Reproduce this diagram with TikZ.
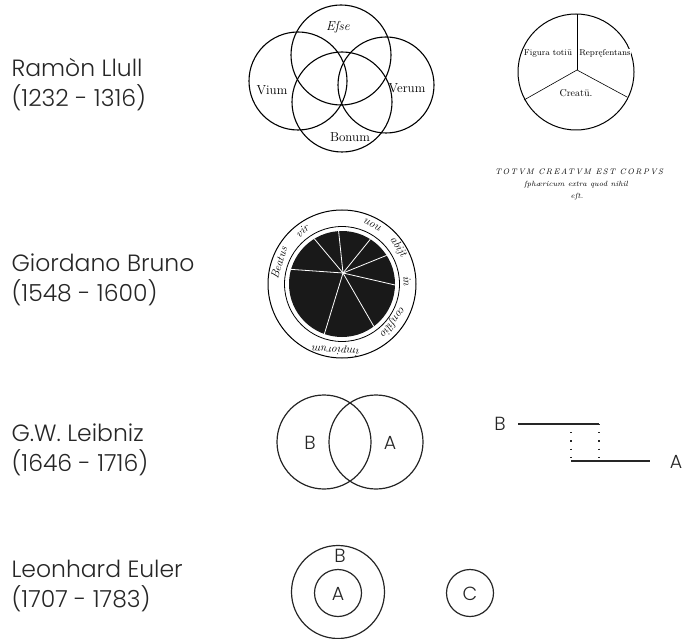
\documentclass[tikz,border=0pt]{standalone}
\usepackage{fontspec}
\setmainfont{Latin Modern Roman}
\IfFontExistsTF{Poppins Light}
  {\newfontfamily\namefont{Poppins Light}}
  {\newfontfamily\namefont{Poppins}}
\tikzset{
  namelabel/.style={anchor=base west, font=\namefont\fontsize{23.5}{23.5}\selectfont, text=black!85},
  wood/.style={font=\fontsize{13}{13}\selectfont, inner sep=0pt},
  ringtxt/.style={font=\itshape\fontsize{11.5}{11.5}\selectfont, inner sep=0pt},
  setlabel/.style={font=\namefont\fontsize{19}{19}\selectfont, text=black!85, inner sep=0pt},
  ln/.style={line width=1.2pt, black!85},
}
\begin{document}
\begin{tikzpicture}[x=1pt, y=-1pt]
    \useasboundingbox (0,0) rectangle (685,639);

    % Names
    \node[namelabel] (lull)  at (8,77)  {Ramòn Llull};
    \node[namelabel] (lullD) at (8,107) {(1232 - 1316)};
    \node[namelabel] (bruno)  at (8,271) {Giordano Bruno};
    \node[namelabel] (brunoD) at (8,301) {(1548 - 1600)};
    \node[namelabel] (leib)  at (8,441) {G.W. Leibniz};
    \node[namelabel] (leibD) at (8,471) {(1646 - 1716)};
    \node[namelabel] (euler)  at (8,577) {Leonhard Euler};
    \node[namelabel] (eulerD) at (8,607) {(1707 - 1783)};

    % Lull: four circles
    \draw[line width=1.1pt] (341,55) circle (50);
    \draw[line width=1.1pt] (298,81) circle (49);
    \draw[line width=1.1pt] (386,85) circle (48);
    \draw[line width=1.1pt] (342,102) circle (50);
    \node[wood] (esse)  at (338,27)  {\itshape Eſse};
    \node[wood] (vium)  at (272,90)  {Vium};
    \node[wood] (verum) at (407,88)  {Verum};
    \node[wood] (bonum) at (350,137) {Bonum};

    % Lull: divided circle
    \coordinate (hubL) at (577,70);
    \draw[line width=1pt] (576,72) circle (58);
    \draw[line width=0.6pt] (hubL) -- (577,14);
    \draw[line width=0.6pt] (hubL) -- (524,100);
    \draw[line width=0.6pt] (hubL) -- (627,97);
    \node[wood, font=\fontsize{8.5}{8.5}\selectfont, fill=white, inner sep=0.5pt] (fig) at (548,53) {Figura totiū};
    \node[wood, font=\fontsize{8.5}{8.5}\selectfont, fill=white, inner sep=0.5pt] (rep) at (605,53) {Repręſentans};
    \node[wood, font=\fontsize{10}{10}\selectfont] (crea) at (576,93) {Creatū.};
    \node[wood, font=\itshape\fontsize{8}{8}\selectfont\addfontfeatures{LetterSpace=18}] (cap1) at (579,172) {TOTVM CREATVM EST CORPVS};
    \node[wood, font=\itshape\fontsize{7.5}{7.5}\selectfont] (cap2) at (576,185) {ſphæricum extra quod nihil};
    \node[wood, font=\itshape\fontsize{7.5}{7.5}\selectfont] (cap3) at (577,197) {eſt.};

    % Bruno: ring with dark disc
    \coordinate (brC) at (342,284);
    \coordinate (hubB) at (343,273);
    \draw[line width=1pt] (brC) circle (74);
    \draw[line width=0.8pt] (brC) circle (57.5);
    \fill[black!90] (brC) circle (53);
    \begin{scope}
      \clip (brC) circle (53);
      \foreach \a in {96,130,176,253,300,347,22,51}
        \draw[white, line width=0.8pt] (hubB) -- ++({-\a}:80);
    \end{scope}
    \node[ringtxt, rotate=73]   (beatus)  at (279,263) {Beatus};
    \node[ringtxt, rotate=38]   (vir)     at (302,231) {vir};
    \node[ringtxt, rotate=152]  (non)     at (373,225) {non};
    \node[ringtxt, rotate=-57]  (abijt)   at (398,247) {abijt};
    \node[ringtxt, rotate=-88]  (in)      at (407,281) {in};
    \node[ringtxt, rotate=-127] (consil)  at (393,322) {conſilio};
    \node[ringtxt, rotate=176]  (impior)  at (336,350) {impiorum};

    % Leibniz: overlapping sets
    \node[circle, draw, ln, minimum size=94pt, inner sep=0pt] (setB) at (324,442) {};
    \node[circle, draw, ln, minimum size=94pt, inner sep=0pt] (setA) at (376,442) {};
    \node[setlabel] (lB) at (310,443) {B};
    \node[setlabel] (lA) at (390,443) {A};

    % Leibniz: line diagram
    \node[setlabel] (segB) at (500,424) {B};
    \node[setlabel] (segA) at (676,462) {A};
    \coordinate (b0) at (518,424);
    \coordinate (b1) at (599,424);
    \coordinate (a0) at (571,461);
    \coordinate (a1) at (650,461);
    \draw[ln] (b0) -- (b1);
    \draw[ln] (a0) -- (a1);
    \draw[line width=1.3pt, black!85, dash pattern=on 1.2pt off 7pt] (b1) -- (b1 |- a0);
    \draw[line width=1.3pt, black!85, dash pattern=on 1.2pt off 7pt] (a0 |- b0) -- (a0);

    % Euler: nested and separate sets
    \node[circle, draw, ln, minimum size=93pt, inner sep=0pt] (eB) at (338,592) {};
    \node[circle, draw, ln, minimum size=47pt, inner sep=0pt] (eA) at (338,593) {};
    \node[circle, draw, ln, minimum size=47pt, inner sep=0pt] (eC) at (470,593) {};
    \node[setlabel] (lEB) at (340,556) {B};
    \node[setlabel] (lEA) at (338,594) {A};
    \node[setlabel] (lEC) at (470,594) {C};
\end{tikzpicture}
\end{document}
